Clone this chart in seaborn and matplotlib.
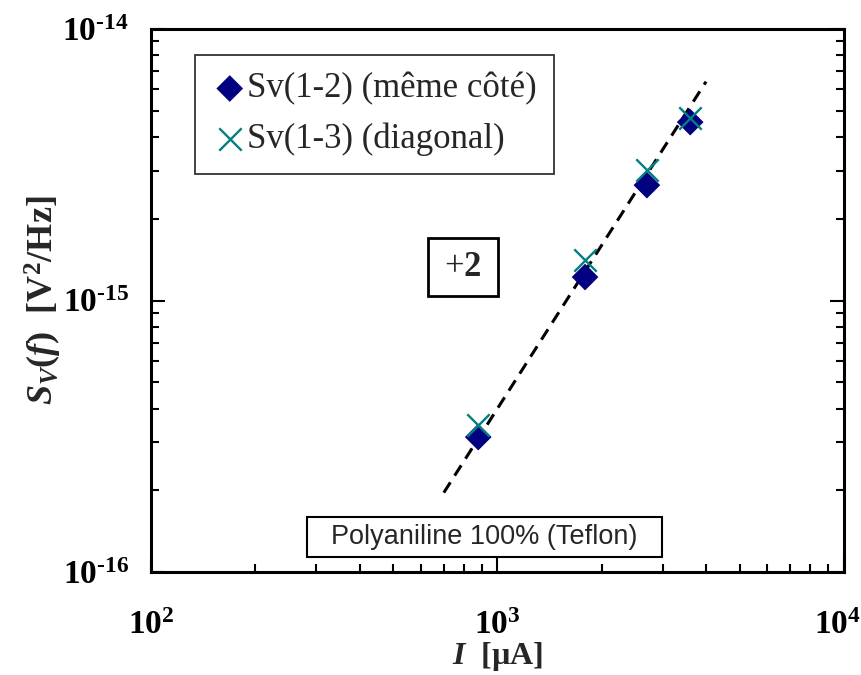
import numpy as np
import pandas as pd
import seaborn as sns
import matplotlib.pyplot as plt
from matplotlib.patches import Rectangle
from matplotlib.ticker import LogLocator, NullFormatter
from matplotlib.transforms import offset_copy

# values (current in uA, noise in V^2/Hz)
current = [880, 1790, 2700, 3600]
sv_same_side = [3.14e-16, 1.22e-15, 2.66e-15, 4.54e-15]
sv_diagonal = [3.48e-16, 1.41e-15, 3.03e-15, 4.70e-15]
fit_x = [700, 4000]
fit_y = [1.96e-16, 6.4e-15]
x_ticks = [1e2, 1e3, 1e4]
y_ticks = [1e-16, 1e-15, 1e-14]

sns.set_style("white")
plt.rcParams["font.family"] = ["Liberation Serif", "DejaVu Serif"]
plt.rcParams["mathtext.fontset"] = "custom"
plt.rcParams["mathtext.rm"] = "Liberation Serif:bold"
plt.rcParams["mathtext.it"] = "Liberation Serif:italic:bold"
plt.rcParams["mathtext.bf"] = "Liberation Serif:bold"

fig = plt.figure(figsize=(8.62, 6.75), dpi=100)
ax = fig.add_axes([0.1752, 0.1526, 0.8038, 0.8044])

df = pd.DataFrame({"I": current, "same": sv_same_side, "diag": sv_diagonal})
fit = pd.DataFrame({"I": fit_x, "S": fit_y})

sns.lineplot(data=fit, x="I", y="S", ax=ax, color="black", lw=2.2,
             linestyle=(0, (4, 2.6)), zorder=1)
sns.scatterplot(data=df, x="I", y="same", ax=ax, marker="D", s=185,
                color="#000080", edgecolor="none", label="Sv(1-2) (même côté)", zorder=2)
sns.scatterplot(data=df, x="I", y="diag", ax=ax, marker="x", s=260,
                color="#008080", linewidth=1.7, label="Sv(1-3) (diagonal)", zorder=3)

ax.set_xscale("log")
ax.set_yscale("log")
ax.set_xlim(1e2, 1e4)
ax.set_ylim(1e-16, 1e-14)


def dec_label(v):
    e = int(round(np.log10(v)))
    if e < 0:
        return r"$\mathbf{10^{\text{-}%d}}$" % -e
    return r"$\mathbf{10^{%d}}$" % e


ax.set_xticks(x_ticks, [dec_label(v) for v in x_ticks])
ax.set_yticks(y_ticks, [dec_label(v) for v in y_ticks])
for a in (ax.xaxis, ax.yaxis):
    a.set_minor_locator(LogLocator(base=10, subs=np.arange(2, 10)))
    a.set_minor_formatter(NullFormatter())

ax.tick_params(which="both", direction="in", left=True, bottom=True, right=True,
               top=False, width=1.5, colors="black")
ax.tick_params(which="major", length=10, labelsize=24, pad=16)
ax.tick_params(which="minor", length=6)
ax.tick_params(axis="x", which="major", pad=28)
for sp in ax.spines.values():
    sp.set_linewidth(2.2)
    sp.set_color("black")

# keep the 10^4 label inside the figure
last = ax.xaxis.get_major_ticks()[-1].label1
last.set_transform(offset_copy(last.get_transform(), fig=fig, x=-6, units="dots"))

ax.set_xlabel(r"$I$  [µA]", fontsize=23, fontweight="bold", labelpad=-1)
ax.set_ylabel(r"$S_V(f)$  [V$^\mathbf{2}$/Hz]", fontsize=26, fontweight="bold", labelpad=-1)

leg = ax.legend(loc="upper left", bbox_to_anchor=(0.0635, 0.952), borderaxespad=0,
                fontsize=25, frameon=True, fancybox=False, handletextpad=0.0,
                handlelength=1.0, labelspacing=0.5, borderpad=0.5, markerscale=1.0)
leg.get_frame().set_edgecolor("black")
leg.get_frame().set_linewidth(1.3)

# annotation boxes
ax.add_patch(Rectangle((0.3997, 0.5083), 0.101, 0.1068, transform=ax.transAxes,
                       fc="white", ec="black", lw=2, zorder=4))
ax.text(0.4502, 0.5599, r"+$\mathbf{2}$", transform=ax.transAxes, ha="center",
        va="center", fontsize=25, zorder=5)
ax.add_patch(Rectangle((0.2251, 0.0276), 0.5123, 0.0737, transform=ax.transAxes,
                       fc="white", ec="black", lw=1.5, zorder=4))
ax.text(0.4812, 0.0645, "Polyaniline 100% (Teflon)", transform=ax.transAxes,
        ha="center", va="center", fontsize=19.5,
        family=["Liberation Sans", "DejaVu Sans"], zorder=5)

fig.savefig("out.png", dpi=100)
